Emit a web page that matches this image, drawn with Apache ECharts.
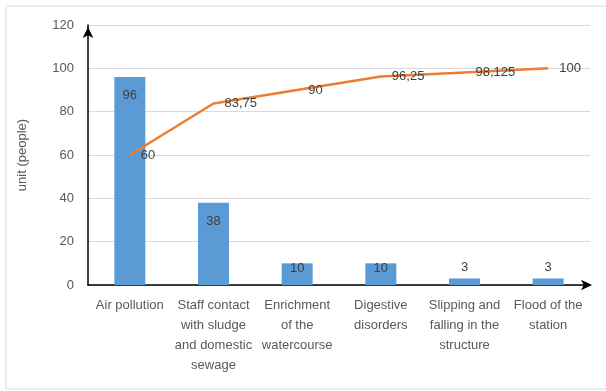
<!DOCTYPE html>
<html>
<head>
<meta charset="utf-8">
<script src="https://cdn.jsdelivr.net/npm/echarts@6/dist/echarts.min.js"></script>
<style>
  html, body { margin: 0; padding: 0; background: #fff; }
  #chart { width: 606px; height: 391px; }
</style>
</head>
<body>
<div id="chart"></div>
<script>
// Hazard categories (line breaks follow the printed axis labels)
const categories = [
  'Air pollution',
  'Staff contact\nwith sludge\nand domestic\nsewage',
  'Enrichment\nof the\nwatercourse',
  'Digestive\ndisorders',
  'Slipping and\nfalling in the\nstructure',
  'Flood of the\nstation'
];
// Number of people affected per category
const people = [96, 38, 10, 10, 3, 3];
// Cumulative share curve values
const cumulative = [60, 83.75, 90, 96.25, 98.125, 100];
// Y-axis range
const yMin = 0, yMax = 120, yStep = 20;

const FONT = 'Liberation Sans';
const TEXT = '#595959';

// Labels sit inside the bar end; short bars push the label just above
const barData = people.map(v => {
  let label;
  if (v >= 30) label = { position: 'insideTop', distance: 12 };
  else if (v >= 8) label = { position: 'insideTop', distance: -1 };
  else label = { position: 'top', distance: 5 };
  return { value: v, label };
});

const chart = echarts.init(document.getElementById('chart'), null, { renderer: 'canvas' });
chart.setOption({
  animation: false,
  backgroundColor: '#fff',
  textStyle: { fontFamily: FONT },
  grid: { left: 88, right: 16, top: 25, bottom: 106, containLabel: false },
  graphic: [{
    type: 'rect',
    shape: { x: 6, y: 6, width: 610, height: 383 },
    style: { fill: 'none', stroke: '#d9d9d9', lineWidth: 1 },
    silent: true
  }],
  xAxis: {
    type: 'category',
    data: categories,
    axisTick: { show: false },
    axisLine: {
      show: true,
      lineStyle: { color: '#000', width: 1.5 },
      symbol: ['none', 'arrow'],
      symbolSize: [8, 11],
      symbolOffset: [0, 2]
    },
    axisLabel: {
      interval: 0,
      color: TEXT,
      fontFamily: FONT,
      fontSize: 13,
      lineHeight: 20,
      margin: 10
    }
  },
  yAxis: {
    type: 'value',
    min: yMin,
    max: yMax,
    interval: yStep,
    name: 'unit (people)',
    nameLocation: 'middle',
    nameGap: 59,
    nameTextStyle: { color: TEXT, fontFamily: FONT, fontSize: 13 },
    axisLine: {
      show: true,
      lineStyle: { color: '#000', width: 1.5 },
      symbol: ['none', 'arrow'],
      symbolSize: [8, 11],
      symbolOffset: [0, -2]
    },
    axisTick: { show: false },
    axisLabel: { color: TEXT, fontFamily: FONT, fontSize: 13, margin: 14 },
    splitLine: { lineStyle: { color: '#d9d9d9', width: 1 } }
  },
  series: [
    {
      type: 'bar',
      data: barData,
      barWidth: 31,
      itemStyle: { color: '#5B9BD5' },
      label: { show: true, color: '#404040', fontFamily: FONT, fontSize: 13 },
      z: 2
    },
    {
      type: 'line',
      data: cumulative,
      symbol: 'circle',
      symbolSize: 0,
      showSymbol: true,
      lineStyle: { color: '#ED7D31', width: 2.5 },
      itemStyle: { color: '#ED7D31' },
      label: {
        show: true,
        position: 'right',
        distance: 11,
        color: '#404040',
        fontFamily: FONT,
        fontSize: 13,
        formatter: p => String(p.value).replace('.', ',')
      },
      z: 3
    }
  ]
});
</script>
</body>
</html>
